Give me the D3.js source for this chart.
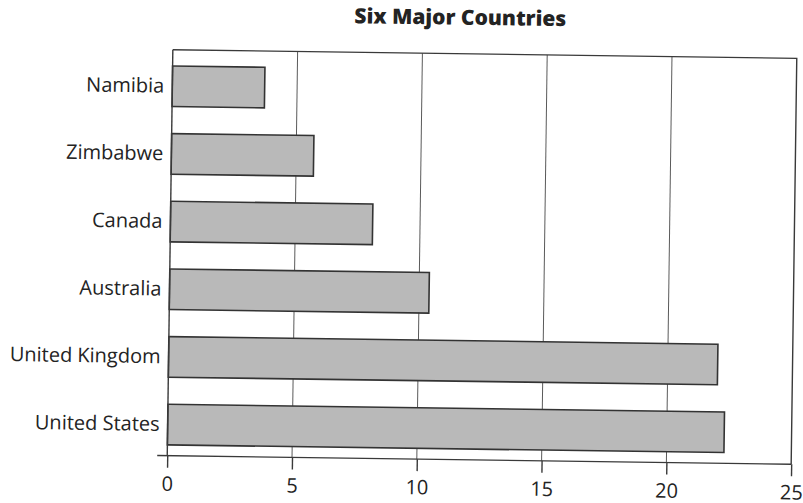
<!DOCTYPE html>
<html>
<head>
<meta charset="utf-8">
<script src="https://cdn.jsdelivr.net/npm/d3@7"></script>
<style>
  html, body { margin: 0; padding: 0; background: #ffffff; }
  svg { display: block; }
  text { font-family: "Open Sans", "Noto Sans", sans-serif; fill: #232323; }
</style>
</head>
<body>
<script>
// Chart data
const title = "Six Major Countries";
const categories = ["Namibia", "Zimbabwe", "Canada", "Australia", "United Kingdom", "United States"];
const values = [3.7, 5.7, 8.1, 10.4, 22.0, 22.3];
const xTicks = [0, 5, 10, 15, 20, 25];

// Layout
const W = 803, H = 503;
const plot = { left: 170, top: 54, width: 624, height: 406 };
const tilt = 0.79; // the printed page sits slightly askew
const cx = plot.left + plot.width / 2, cy = plot.top + plot.height / 2;

const svg = d3.select("body").append("svg")
  .attr("width", W).attr("height", H);

const page = svg.append("g")
  .attr("transform", `rotate(${tilt},${cx},${cy})`);

page.append("text")
  .attr("x", 457).attr("y", 25)
  .attr("text-anchor", "middle")
  .style("font-size", "21px")
  .style("font-weight", "800")
  .text(title);

const g = page.append("g")
  .attr("transform", `translate(${plot.left},${plot.top})`);

const x = d3.scaleLinear().domain([0, 25]).range([0, plot.width]);
const y = d3.scaleBand().domain(categories).range([0, plot.height])
  .paddingInner(0.4).paddingOuter(0.2).align(0.6);

// vertical gridlines
g.append("g").selectAll("line")
  .data(xTicks.filter(t => t > 0 && t < 25))
  .join("line")
  .attr("x1", d => x(d)).attr("x2", d => x(d))
  .attr("y1", 0).attr("y2", plot.height)
  .attr("stroke", "#5a5a5a").attr("stroke-width", 1);

// frame: top and right border
g.append("path")
  .attr("d", `M${x(0)},0H${x(25)}V${plot.height}`)
  .attr("fill", "none").attr("stroke", "#3a3a3a").attr("stroke-width", 1.4);

// bars
g.append("g").selectAll("rect")
  .data(categories.map((c, i) => ({ c, v: values[i] })))
  .join("rect")
  .attr("x", x(0))
  .attr("y", d => y(d.c))
  .attr("width", d => x(d.v) - x(0))
  .attr("height", y.bandwidth())
  .attr("fill", "#b9b9b9")
  .attr("stroke", "#333333")
  .attr("stroke-width", 1.6);

// category axis
const yAxis = g.append("g")
  .call(d3.axisLeft(y).tickSize(0).tickPadding(8));
yAxis.select(".domain").remove();
yAxis.selectAll("text")
  .style("font-size", "20px")
  .attr("fill", "#232323");
g.append("line")
  .attr("x1", x(0)).attr("x2", x(0))
  .attr("y1", 0).attr("y2", plot.height)
  .attr("stroke", "#3a3a3a").attr("stroke-width", 1.4);

// value axis
const xAxis = g.append("g")
  .attr("transform", `translate(0,${plot.height})`)
  .call(d3.axisBottom(x).tickValues(xTicks).tickFormat(d3.format("d"))
    .tickSize(12).tickPadding(9));
xAxis.select(".domain").remove();
xAxis.selectAll(".tick line").attr("stroke", "#3a3a3a").attr("stroke-width", 1.4);
xAxis.selectAll("text")
  .style("font-size", "20px")
  .attr("fill", "#232323");
g.append("line")
  .attr("x1", x(0) - 10).attr("x2", x(25))
  .attr("y1", plot.height).attr("y2", plot.height)
  .attr("stroke", "#3a3a3a").attr("stroke-width", 1.4);
</script>
</body>
</html>
